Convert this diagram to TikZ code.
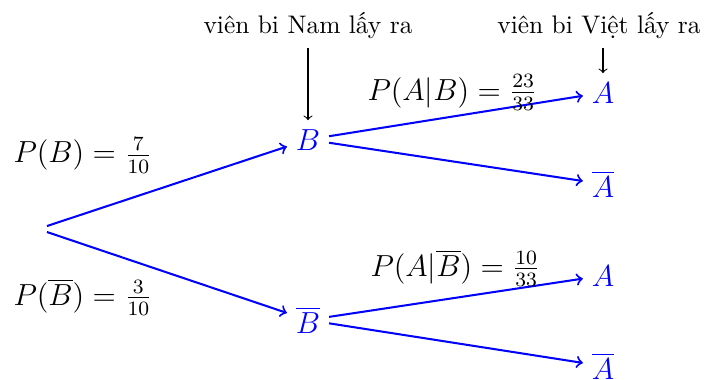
\documentclass[tikz,border=0pt]{standalone}
\usepackage{fontspec}
\usetikzlibrary{arrows}
\begin{document}
\begin{tikzpicture}[x=0.3937pt,y=-0.3937pt,
  ev/.style={font=\large,text=blue,anchor=base},
  lbl/.style={font=\large,inner sep=0pt,anchor=base west},
  hdr/.style={anchor=base},
  br/.style={->,blue,thick},
  pt/.style={->,black}]
\useasboundingbox (0,0) rectangle (710,380);
\node[font=\large] (O) at (38,229) {};
\node[ev] (B) at (308,150) {$B$};
\node[ev] (Bb) at (308,333) {$\overline{B}$};
\node[ev] (A1) at (603,103) {$A$};
\node[ev] (A1b) at (603,197) {$\overline{A}$};
\node[ev] (A2) at (603,286) {$A$};
\node[ev] (A2b) at (603,379) {$\overline{A}$};
\draw[br] (O) -- (B);
\draw[br] (O) -- (Bb);
\draw[br] (B) -- (A1);
\draw[br] (B) -- (A1b);
\draw[br] (Bb) -- (A2);
\draw[br] (Bb) -- (A2b);
\node[lbl] (pB) at (13,163) {$P(B)=\frac{7}{10}$};
\node[lbl] (pBb) at (13,305) {$P(\overline{B})=\frac{3}{10}$};
\node[lbl] (pAB) at (367,100) {$P(A|B)=\frac{23}{33}$};
\node[lbl] (pABb) at (370,276) {$P(A|\overline{B})=\frac{10}{33}$};
\node[hdr] (h1) at (308,34) {viên bi Nam lấy ra};
\node[hdr] (h2) at (599,34) {viên bi Việt lấy ra};
\draw[pt] (h1) -- (B);
\draw[pt] (h2.south -| A1) -- (A1);
\end{tikzpicture}
\end{document}
